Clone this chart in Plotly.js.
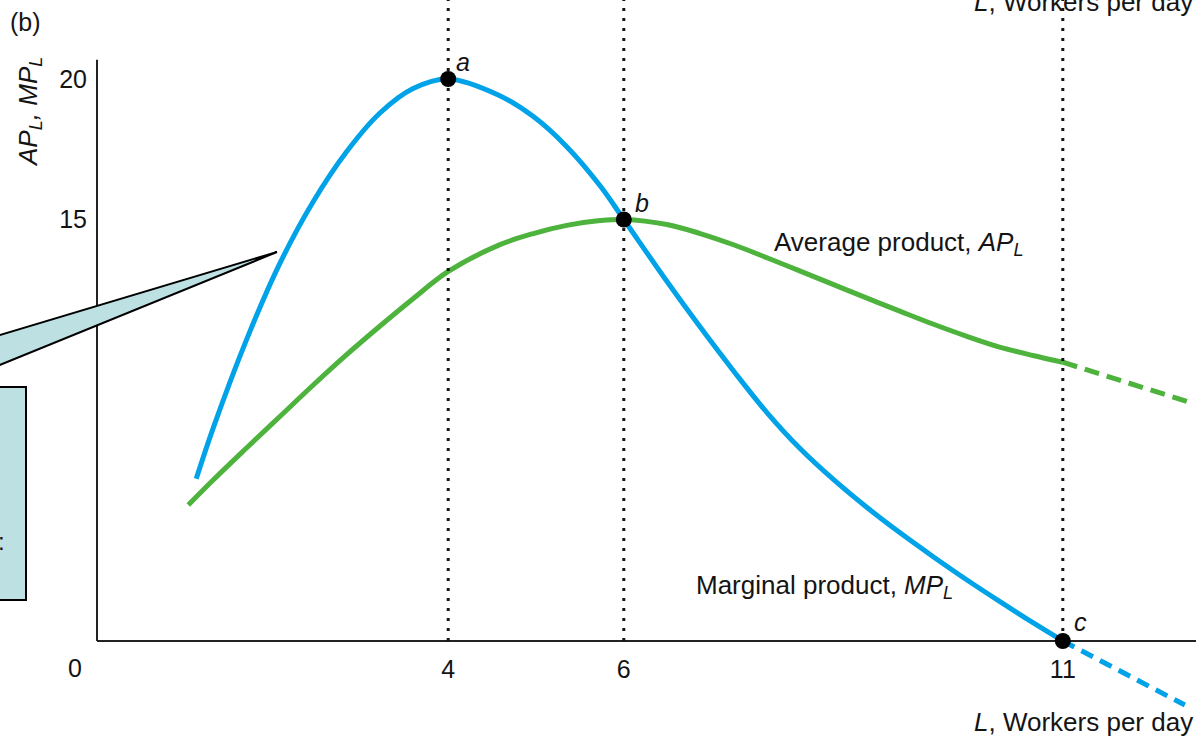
<!DOCTYPE html>
<html>
<head>
<meta charset="utf-8">
<script src="https://cdn.plot.ly/plotly-3.0.1.min.js"></script>
<style>html,body{margin:0;padding:0;background:#fff;}#chart{width:1196px;height:744px;}</style>
</head>
<body>
<div id="chart"></div>
<script>
// ---- data ----
const mpL = [1.13, 1.32, 1.70, 2.08, 2.46, 2.84, 3.22, 3.60, 4.00, 4.57, 4.97, 5.35, 5.73, 6.00, 6.49, 6.87, 7.25, 7.63, 8.01, 8.39, 8.77, 9.15, 9.52, 9.90, 10.28, 10.66, 11.00];
const mpVal = [5.77, 7.55, 10.70, 13.42, 15.62, 17.40, 18.78, 19.66, 20.00, 19.43, 18.66, 17.59, 16.20, 15.00, 12.80, 11.17, 9.61, 8.13, 6.84, 5.74, 4.75, 3.84, 3.01, 2.19, 1.41, 0.65, 0.00];
const mpExtL = [11.00, 12.39];
const mpExtVal = [0.00, -2.28];

const apL = [1.04, 1.32, 1.70, 2.08, 2.46, 2.84, 3.22, 3.60, 4.00, 4.57, 4.97, 5.35, 5.73, 6.00, 6.49, 6.87, 7.25, 7.63, 8.01, 8.39, 8.77, 9.15, 9.52, 9.90, 10.28, 10.66, 11.00];
const apVal = [4.84, 5.72, 6.86, 7.98, 9.10, 10.18, 11.20, 12.18, 13.15, 14.08, 14.50, 14.79, 14.96, 15.00, 14.82, 14.50, 14.10, 13.64, 13.16, 12.68, 12.20, 11.73, 11.28, 10.85, 10.46, 10.16, 9.92];
const apExtL = [11.00, 12.47];
const apExtVal = [9.92, 8.47];

const pointNames = ["a", "b", "c"];
const pointL = [4, 6, 11];
const pointVal = [20, 15, 0];

const guideL = [4, 6, 11];
const xTickVals = [4, 6, 11];
const xTickText = ["4", "6", "11"];
const yTickVals = [15, 20];
const yTickText = ["15", "20"];

const apLabel = "Average product, <i>AP<sub>L</sub></i>";
const mpLabel = "Marginal product, <i>MP<sub>L</sub></i>";
const xLabel = "<i>L</i>, Workers per day";
const yLabel = "<i>AP<sub>L</sub>, MP<sub>L</sub></i>";
const panelLabel = "(b)";

// ---- geometry / style ----
const W = 1196, H = 744, ML = 97;
const xRange = [0, 12.517];
const yRange = [-3.665, 22.81];
const BLUE = "#00a2e8", GREEN = "#4db33d", INK = "#141414";
const FONT = "Liberation Sans, Arial, Helvetica, sans-serif";
const PX = p => (p - ML) / (W - ML);     // pixel x -> paper
const PY = p => (H - p) / H;             // pixel y -> paper

const traces = [];
traces.push({x: apL, y: apVal, mode: "lines", line: {color: GREEN, width: 5, shape: "spline", smoothing: 1.0}, hoverinfo: "skip"});
traces.push({x: apExtL, y: apExtVal, mode: "lines", line: {color: GREEN, width: 5, dash: "15px,8px"}, hoverinfo: "skip"});
traces.push({x: mpL, y: mpVal, mode: "lines", line: {color: BLUE, width: 5, shape: "spline", smoothing: 1.0}, hoverinfo: "skip"});
traces.push({x: mpExtL, y: mpExtVal, mode: "lines", line: {color: BLUE, width: 5, dash: "13px,8px"}, hoverinfo: "skip"});
guideL.forEach(g => {
  traces.push({x: [g, g], y: [0, yRange[1]], mode: "lines", line: {color: INK, width: 3, dash: "3px,7px"}, hoverinfo: "skip", cliponaxis: false});
});
traces.push({x: pointL, y: pointVal, mode: "markers", marker: {color: "#000", size: 16}, hoverinfo: "skip", cliponaxis: false});

const shiftFor = {a: [15, 17], b: [18, 16], c: [18, 19]};
const annotations = pointNames.map((n, i) => ({
  x: pointL[i], y: pointVal[i], xref: "x", yref: "y", text: "<i>" + n + "</i>",
  showarrow: false, xshift: shiftFor[n][0], yshift: shiftFor[n][1],
  font: {size: 25, color: INK, family: FONT}
}));
annotations.push(
  {xref: "paper", yref: "paper", x: PX(772), y: PY(243), xanchor: "left", yanchor: "middle", text: apLabel, showarrow: false, font: {size: 26, color: INK, family: FONT}},
  {xref: "paper", yref: "paper", x: PX(694), y: PY(586), xanchor: "left", yanchor: "middle", text: mpLabel, showarrow: false, font: {size: 26, color: INK, family: FONT}},
  {xref: "paper", yref: "paper", x: PX(1195), y: PY(722), xanchor: "right", yanchor: "middle", text: xLabel, showarrow: false, font: {size: 26, color: INK, family: FONT}},
  {xref: "paper", yref: "paper", x: PX(1195), y: PY(2), xanchor: "right", yanchor: "middle", text: xLabel, showarrow: false, font: {size: 26, color: INK, family: FONT}},
  {xref: "paper", yref: "paper", x: PX(30), y: PY(112), xanchor: "center", yanchor: "middle", textangle: -90, text: yLabel, showarrow: false, font: {size: 26, color: INK, family: FONT}},
  {xref: "paper", yref: "paper", x: PX(8), y: PY(22), xanchor: "left", yanchor: "middle", text: panelLabel, showarrow: false, font: {size: 25, color: INK, family: FONT}},
  {xref: "paper", yref: "paper", x: PX(75), y: PY(668), xanchor: "center", yanchor: "middle", text: "0", showarrow: false, font: {size: 25, color: INK, family: FONT}},
  {xref: "paper", yref: "paper", x: PX(7), y: PY(541), xanchor: "right", yanchor: "middle", text: ":", showarrow: false, font: {size: 24, color: INK, family: FONT}}
);

const shapes = [
  // y axis line
  {type: "line", xref: "paper", yref: "y", x0: 0, x1: 0, y0: 0, y1: 20.68, line: {color: "#222", width: 2}},
  // callout pointer
  {type: "path", xref: "paper", yref: "paper", layer: "above",
   path: `M ${PX(-20)},${PY(341)} L ${PX(277)},${PY(252)} L ${PX(-20)},${PY(373)} Z`,
   fillcolor: "#bde0e3", line: {color: "#000", width: 2}},
  // callout box
  {type: "rect", xref: "paper", yref: "paper", layer: "above", x0: PX(-20), x1: PX(26), y0: PY(600), y1: PY(387),
   fillcolor: "#bde0e3", line: {color: "#000", width: 2}}
];

const xPos = (0 - yRange[0]) / (yRange[1] - yRange[0]);

const layout = {
  width: W, height: H,
  margin: {l: ML, r: 0, t: 0, b: 0, pad: 0},
  paper_bgcolor: "#fff", plot_bgcolor: "#fff",
  showlegend: false, hovermode: false,
  font: {family: FONT, color: INK},
  xaxis: {range: xRange, anchor: "free", position: xPos, showgrid: false, zeroline: false, showline: false,
          tickmode: "array", tickvals: xTickVals, ticktext: xTickText, ticks: "", ticklabelstandoff: 11,
          tickfont: {size: 25, color: INK, family: FONT}, fixedrange: true},
  yaxis: {range: yRange, showgrid: false, zeroline: true, zerolinecolor: "#222", zerolinewidth: 2, showline: false,
          tickmode: "array", tickvals: yTickVals, ticktext: yTickText, ticks: "", ticklabelstandoff: 9,
          tickfont: {size: 25, color: INK, family: FONT}, fixedrange: true},
  shapes: shapes,
  annotations: annotations
};

Plotly.newPlot("chart", traces, layout, {displayModeBar: false, staticPlot: true});
</script>
</body>
</html>
